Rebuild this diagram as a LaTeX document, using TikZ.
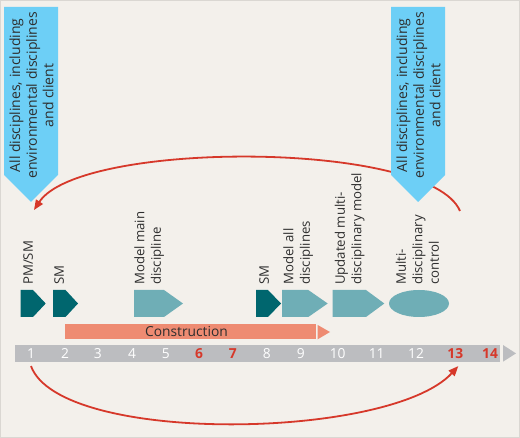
\documentclass[tikz,border=0pt]{standalone}
\usepackage{fontspec}
\setmainfont{Open Sans}
\usetikzlibrary{shapes.geometric,arrows.meta}
\definecolor{bg}{HTML}{F3F0EB}
\definecolor{framec}{HTML}{DAD7D2}
\definecolor{sky}{HTML}{6DCFF6}
\definecolor{dteal}{HTML}{00666E}
\definecolor{lteal}{HTML}{6FAEB6}
\definecolor{salmon}{HTML}{EE8B72}
\definecolor{bargray}{HTML}{BCBDC0}
\definecolor{redc}{HTML}{D6382A}
\definecolor{txt}{HTML}{2E2E2E}
\begin{document}
\begin{tikzpicture}[x=1pt,y=-1pt,
  lbl/.style={rotate=90,anchor=south west,inner sep=0pt,text depth=0pt,align=left,font=\fontsize{13.2}{16.5}\selectfont,text=txt},
  bantext/.style={rotate=90,inner sep=0pt,align=center,font=\fontsize{14}{16.6}\selectfont,text=txt},
  num/.style={inner sep=0pt,minimum height=17pt,font=\fontsize{13.8}{16}\selectfont,text=white},
  hot/.style={num,text=redc,font=\fontsize{13.8}{16}\selectfont\bfseries},
  redarc/.style={draw=redc,line width=1.8pt,-{Triangle[length=10pt,width=8pt]}},
  banner/.style={fill=sky},
  darkpent/.style={fill=dteal},
  lightpent/.style={fill=lteal}
]
% background and frame
\fill[bg] (0,0) rectangle (520,438);
\draw[framec,line width=1pt] (0.5,0.5) rectangle (519.5,437.5);
\useasboundingbox (0,0) rectangle (520,438);

% top arc (behind banners)
\coordinate (topstart) at (460,211);
\coordinate (topend) at (34,210);
\draw[redarc] (topstart) .. controls +(-30,-71) and +(46,-70) .. (topend);

% banners
\fill[banner] (4,7) -- (58,7) -- (58,175) -- (31,202) -- (4,175) -- cycle;
\node[bantext] (banL) at (31.5,95.5) {All disciplines, including\\environmental disciplines\\and client};
\fill[banner] (391,7) -- (445,7) -- (445,175) -- (418,202) -- (391,175) -- cycle;
\node[bantext] (banR) at (418.5,95.5) {All disciplines, including\\environmental disciplines\\and client};

% activity shapes
\fill[darkpent] (20.7,290) -- (33,290) -- (45.7,303.5) -- (33,317) -- (20.7,317) -- cycle;
\fill[darkpent] (53,290) -- (65.5,290) -- (78,303.5) -- (65.5,317) -- (53,317) -- cycle;
\fill[lightpent] (134,290) -- (164,290) -- (183,303.5) -- (164,317) -- (134,317) -- cycle;
\fill[darkpent] (256,290) -- (268,290) -- (281,303.5) -- (268,317) -- (256,317) -- cycle;
\fill[lightpent] (282,290) -- (308.3,290) -- (327.7,303.5) -- (308.3,317) -- (282,317) -- cycle;
\fill[lightpent] (332.7,290) -- (366,290) -- (384.3,303.5) -- (366,317) -- (332.7,317) -- cycle;
\node[ellipse,fill=lteal,minimum width=60pt,minimum height=27pt,inner sep=0pt] (ctrl) at (419,303.5) {};

% labels
\node[lbl] (lpmsm) at (33,285) {PM/SM};
\node[lbl] (lsm1) at (64,285) {SM};
\node[lbl] (lmain) at (161,285) {Model main\\discipline};
\node[lbl] (lsm2) at (269,285) {SM};
\node[lbl] (lall) at (310,285) {Model all\\disciplines};
\node[lbl] (lupd) at (361.5,285) {Updated multi-\\disciplinary model};
\node[lbl] (lmulti) at (439,285) {Multi-\\disciplinary\\control};

% construction
\fill[salmon] (65,324) rectangle (315.5,339);
\fill[salmon] (317.7,325) -- (330,332) -- (317.7,339.3) -- cycle;
\node[inner sep=0pt,font=\fontsize{13.8}{16}\selectfont,text=txt] (constr) at (186.5,331.5) {Construction};

% timeline
\fill[bargray] (15,345) rectangle (500,361.7);
\fill[bargray] (503,345) -- (516,353.4) -- (503,361.7) -- cycle;
\node[num] (n1) at (31,353.4) {1};
\node[num] (n2) at (65,353.4) {2};
\node[num] (n3) at (97.7,353.4) {3};
\node[num] (n4) at (132,353.4) {4};
\node[num] (n5) at (165.7,353.4) {5};
\node[hot] (n6) at (199,353.4) {6};
\node[hot] (n7) at (232.7,353.4) {7};
\node[num] (n8) at (266.7,353.4) {8};
\node[num] (n9) at (300.7,353.4) {9};
\node[num] (n10) at (337.7,353.4) {10};
\node[num] (n11) at (376.7,353.4) {11};
\node[num] (n12) at (416,353.4) {12};
\node[hot] (n13) at (455.3,353.4) {13};
\node[hot] (n14) at (490,353.4) {14};

% bottom arc
\draw[redarc] ([yshift=-4pt]n1.south) .. controls +(29,79) and +(-68,74) .. ([xshift=3pt,yshift=-4pt]n13.south);
\end{tikzpicture}
\end{document}
